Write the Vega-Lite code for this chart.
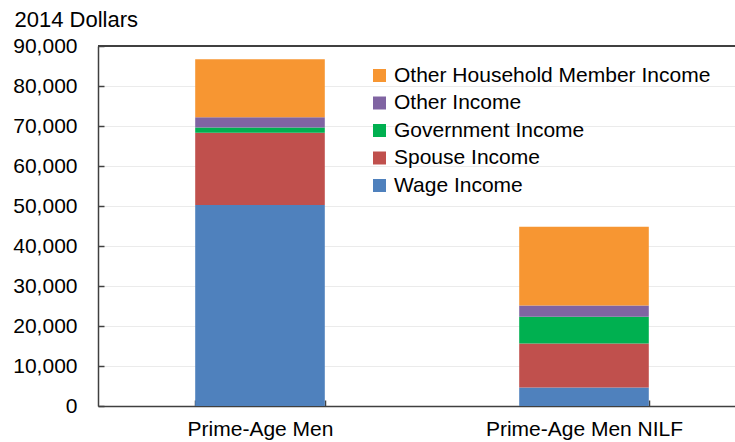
{
  "$schema": "https://vega.github.io/schema/vega-lite/v6.json",
  "width": 637,
  "height": 360,
  "autosize": {"type": "none"},
  "padding": {"left": 98, "top": 46, "right": 0, "bottom": 36},
  "background": "white",
  "config": {"view": {"stroke": null}, "font": "Liberation Sans"},
  "data": {
    "values": [
      {"group": "Prime-Age Men", "component": "Wage Income", "rank": 1, "value": 50250},
      {"group": "Prime-Age Men", "component": "Spouse Income", "rank": 2, "value": 18050},
      {"group": "Prime-Age Men", "component": "Government Income", "rank": 3, "value": 1300},
      {"group": "Prime-Age Men", "component": "Other Income", "rank": 4, "value": 2600},
      {"group": "Prime-Age Men", "component": "Other Household Member Income", "rank": 5, "value": 14500},
      {"group": "Prime-Age Men NILF", "component": "Wage Income", "rank": 1, "value": 4600},
      {"group": "Prime-Age Men NILF", "component": "Spouse Income", "rank": 2, "value": 11000},
      {"group": "Prime-Age Men NILF", "component": "Government Income", "rank": 3, "value": 6700},
      {"group": "Prime-Age Men NILF", "component": "Other Income", "rank": 4, "value": 2800},
      {"group": "Prime-Age Men NILF", "component": "Other Household Member Income", "rank": 5, "value": 19700}
    ]
  },
  "layer": [
    {
      "mark": {"type": "bar"},
      "encoding": {
        "x": {
          "field": "group",
          "type": "nominal",
          "sort": ["Prime-Age Men", "Prime-Age Men NILF"],
          "scale": {"range": [0, 648], "paddingInner": 0.6, "paddingOuter": 0.3},
          "axis": {
            "title": null,
            "labelAngle": 0,
            "labelFontSize": 21,
            "labelColor": "black",
            "labelLimit": 400,
            "labelPadding": 18,
            "tickBand": "extent",
            "tickSize": -6,
            "tickColor": "#404040",
            "tickWidth": 1.5,
            "domainColor": "#404040",
            "domainWidth": 1.5
          }
        },
        "y": {
          "field": "value",
          "type": "quantitative",
          "stack": "zero",
          "scale": {"domain": [0, 90000], "nice": false},
          "axis": {
            "title": "2014 Dollars",
            "titleAngle": 0,
            "titleX": -84,
            "titleY": -20,
            "titleAlign": "left",
            "titleBaseline": "alphabetic",
            "titleFontSize": 22,
            "titleFontWeight": "normal",
            "titleColor": "black",
            "values": [0, 10000, 20000, 30000, 40000, 50000, 60000, 70000, 80000, 90000],
            "format": ",d",
            "labelFontSize": 21,
            "labelColor": "black",
            "labelFlush": false,
            "labelOverlap": false,
            "labelPadding": 27,
            "tickSize": -6,
            "tickColor": "#404040",
            "tickWidth": 1.5,
            "grid": true,
            "gridColor": "#EBEBEB",
            "domainColor": "#404040",
            "domainWidth": 1.5
          }
        },
        "order": {"field": "rank", "type": "quantitative", "sort": "ascending"},
        "color": {
          "field": "component",
          "type": "nominal",
          "scale": {
            "domain": ["Wage Income", "Spouse Income", "Government Income", "Other Income", "Other Household Member Income"],
            "range": ["#4F81BD", "#C0504D", "#00B050", "#8064A2", "#F79632"]
          },
          "legend": {
            "orient": "none",
            "legendX": 271,
            "legendY": 19,
            "title": null,
            "values": ["Other Household Member Income", "Other Income", "Government Income", "Spouse Income", "Wage Income"],
            "symbolType": "square",
            "symbolSize": 169,
            "symbolOpacity": 1,
            "symbolStrokeWidth": 0,
            "labelFontSize": 21,
            "labelColor": "black",
            "labelOffset": 4,
            "labelLimit": 400,
            "rowPadding": 5.5
          }
        }
      }
    },
    {
      "mark": {"type": "rule", "color": "#404040", "strokeWidth": 1.5},
      "encoding": {
        "y": {
          "datum": 90000,
          "type": "quantitative",
          "scale": {"domain": [0, 90000], "nice": false},
          "axis": {
            "title": "2014 Dollars",
            "titleAngle": 0,
            "titleX": -84,
            "titleY": -20,
            "titleAlign": "left",
            "titleBaseline": "alphabetic",
            "titleFontSize": 22,
            "titleFontWeight": "normal",
            "titleColor": "black",
            "values": [0, 10000, 20000, 30000, 40000, 50000, 60000, 70000, 80000, 90000],
            "format": ",d",
            "labelFontSize": 21,
            "labelColor": "black",
            "labelFlush": false,
            "labelOverlap": false,
            "labelPadding": 27,
            "tickSize": -6,
            "tickColor": "#404040",
            "tickWidth": 1.5,
            "grid": true,
            "gridColor": "#EBEBEB",
            "domainColor": "#404040",
            "domainWidth": 1.5
          }
        }
      }
    }
  ]
}
